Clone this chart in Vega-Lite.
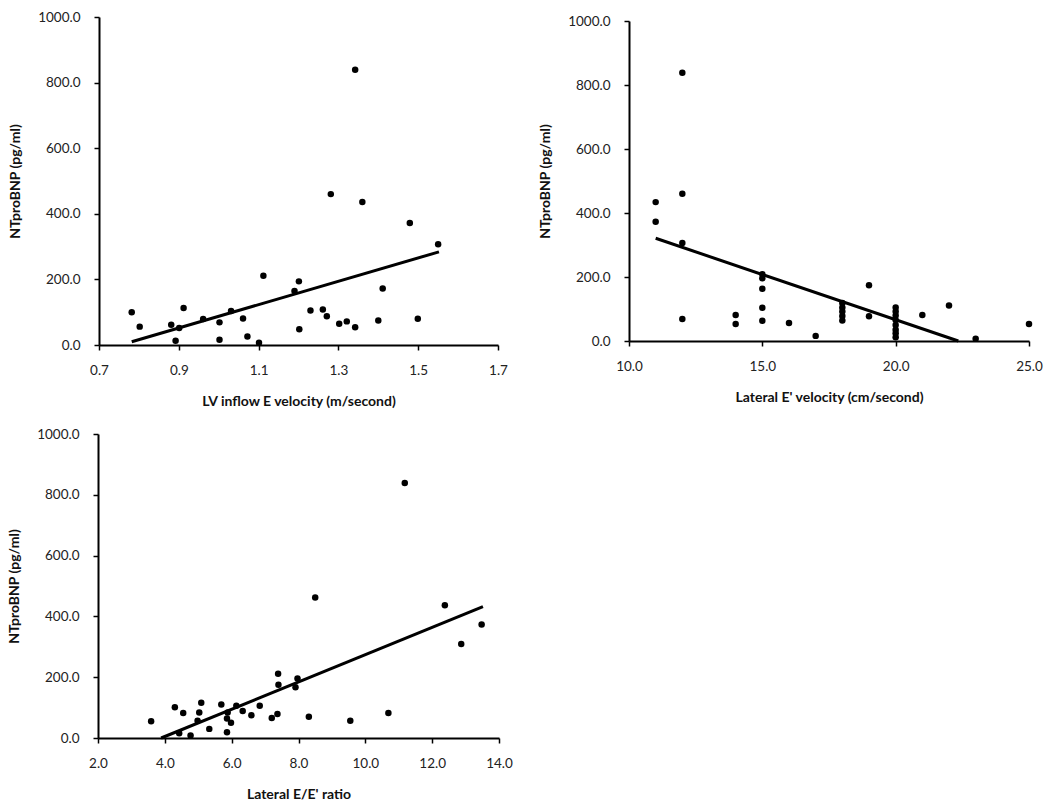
{
  "$schema": "https://vega.github.io/schema/vega-lite/v6.json",
  "background": "white",
  "padding": {"left": 7, "top": 10, "right": 5, "bottom": 5},
  "bounds": "flush",
  "columns": 2,
  "spacing": {"row": 89, "column": 130},
  "center": true,
  "config": {
    "view": {"stroke": null},
    "font": "Lato",
    "axis": {
      "grid": false,
      "domainColor": "black",
      "domainWidth": 2,
      "tickColor": "black",
      "tickWidth": 1.5,
      "tickSize": 5,
      "labelFont": "Lato",
      "labelFontSize": 13.5,
      "labelColor": "#222",
      "labelPadding": 13,
      "labelFlush": false,
      "labelOverlap": false,
      "titleFont": "Lato",
      "titleFontSize": 14,
      "titleFontWeight": "bold",
      "titleColor": "#111"
    },
    "axisX": {"titlePadding": 18},
    "axisY": {"titlePadding": 15, "labelPadding": 14}
  },
  "datasets": {
    "p1": [
      {"x": 0.782, "y": 100}, {"x": 0.802, "y": 56}, {"x": 0.881, "y": 62}, {"x": 0.892, "y": 13},
      {"x": 0.901, "y": 52}, {"x": 0.912, "y": 113}, {"x": 0.961, "y": 79}, {"x": 1.002, "y": 69},
      {"x": 1.002, "y": 16}, {"x": 1.031, "y": 104}, {"x": 1.061, "y": 81}, {"x": 1.072, "y": 26},
      {"x": 1.101, "y": 7}, {"x": 1.112, "y": 211}, {"x": 1.19, "y": 165}, {"x": 1.201, "y": 194},
      {"x": 1.202, "y": 48}, {"x": 1.23, "y": 105}, {"x": 1.261, "y": 108}, {"x": 1.271, "y": 88},
      {"x": 1.281, "y": 460}, {"x": 1.302, "y": 65}, {"x": 1.321, "y": 72}, {"x": 1.342, "y": 839},
      {"x": 1.342, "y": 54}, {"x": 1.36, "y": 436}, {"x": 1.4, "y": 75}, {"x": 1.411, "y": 172},
      {"x": 1.479, "y": 372}, {"x": 1.499, "y": 80}, {"x": 1.55, "y": 307}
    ],
    "t1": [{"x": 0.782, "y": 10}, {"x": 1.552, "y": 284}],
    "p2": [
      {"x": 11, "y": 434}, {"x": 11, "y": 373}, {"x": 12, "y": 838}, {"x": 12, "y": 460},
      {"x": 12, "y": 306}, {"x": 12, "y": 69}, {"x": 14, "y": 81}, {"x": 14, "y": 53},
      {"x": 15, "y": 209}, {"x": 15, "y": 196}, {"x": 15, "y": 163}, {"x": 15, "y": 104},
      {"x": 15, "y": 63}, {"x": 16, "y": 56}, {"x": 17, "y": 16},
      {"x": 18, "y": 119}, {"x": 18, "y": 105}, {"x": 18, "y": 92}, {"x": 18, "y": 78}, {"x": 18, "y": 64},
      {"x": 19, "y": 174}, {"x": 19, "y": 77},
      {"x": 20, "y": 105}, {"x": 20, "y": 92}, {"x": 20, "y": 80}, {"x": 20, "y": 66},
      {"x": 20, "y": 50}, {"x": 20, "y": 35}, {"x": 20, "y": 24}, {"x": 20, "y": 12},
      {"x": 21, "y": 81}, {"x": 22, "y": 111}, {"x": 23, "y": 7}, {"x": 25, "y": 53}
    ],
    "t2": [{"x": 11, "y": 321}, {"x": 22.35, "y": 0}],
    "p3": [
      {"x": 3.59, "y": 55}, {"x": 4.3, "y": 101}, {"x": 4.43, "y": 16}, {"x": 4.55, "y": 82},
      {"x": 4.77, "y": 8}, {"x": 4.98, "y": 57}, {"x": 5.03, "y": 84}, {"x": 5.09, "y": 116},
      {"x": 5.33, "y": 30}, {"x": 5.69, "y": 110}, {"x": 5.86, "y": 19}, {"x": 5.86, "y": 64},
      {"x": 5.88, "y": 84}, {"x": 5.98, "y": 50}, {"x": 6.14, "y": 106}, {"x": 6.33, "y": 89},
      {"x": 6.59, "y": 75}, {"x": 6.84, "y": 106}, {"x": 7.2, "y": 66}, {"x": 7.37, "y": 79},
      {"x": 7.39, "y": 211}, {"x": 7.4, "y": 175}, {"x": 7.91, "y": 167}, {"x": 7.97, "y": 196},
      {"x": 8.31, "y": 70}, {"x": 8.5, "y": 462}, {"x": 9.55, "y": 57}, {"x": 10.69, "y": 82},
      {"x": 11.18, "y": 839}, {"x": 12.38, "y": 437}, {"x": 12.87, "y": 309}, {"x": 13.48, "y": 373}
    ],
    "t3": [{"x": 3.89, "y": 0}, {"x": 13.52, "y": 432}]
  },
  "concat": [
    {
      "width": 399,
      "height": 328,
      "layer": [
        {
          "data": {"name": "t1"},
          "mark": {"type": "line", "color": "black", "strokeWidth": 3},
          "encoding": {
            "x": {"field": "x", "type": "quantitative"},
            "y": {"field": "y", "type": "quantitative"}
          }
        },
        {
          "data": {"name": "p1"},
          "mark": {"type": "circle", "color": "black", "opacity": 1, "size": 42},
          "encoding": {
            "x": {"field": "x", "type": "quantitative",
              "scale": {"domain": [0.7, 1.7], "nice": false, "zero": false},
              "axis": {"values": [0.7, 0.9, 1.1, 1.3, 1.5, 1.7], "format": ".1f", "title": "LV inflow E velocity (m/second)"}},
            "y": {"field": "y", "type": "quantitative",
              "scale": {"domain": [0, 1000], "nice": false},
              "axis": {"values": [0, 200, 400, 600, 800, 1000], "format": ".1f", "title": "NTproBNP (pg/ml)"}}
          }
        }
      ]
    },
    {
      "width": 400,
      "height": 320,
      "layer": [
        {
          "data": {"name": "t2"},
          "mark": {"type": "line", "color": "black", "strokeWidth": 3},
          "encoding": {
            "x": {"field": "x", "type": "quantitative"},
            "y": {"field": "y", "type": "quantitative"}
          }
        },
        {
          "data": {"name": "p2"},
          "mark": {"type": "circle", "color": "black", "opacity": 1, "size": 42},
          "encoding": {
            "x": {"field": "x", "type": "quantitative",
              "scale": {"domain": [10, 25], "nice": false, "zero": false},
              "axis": {"values": [10, 15, 20, 25], "format": ".1f", "title": "Lateral E' velocity (cm/second)"}},
            "y": {"field": "y", "type": "quantitative",
              "scale": {"domain": [0, 1000], "nice": false},
              "axis": {"values": [0, 200, 400, 600, 800, 1000], "format": ".1f", "title": "NTproBNP (pg/ml)"}}
          }
        }
      ]
    },
    {
      "width": 401,
      "height": 304,
      "layer": [
        {
          "data": {"name": "t3"},
          "mark": {"type": "line", "color": "black", "strokeWidth": 3},
          "encoding": {
            "x": {"field": "x", "type": "quantitative"},
            "y": {"field": "y", "type": "quantitative"}
          }
        },
        {
          "data": {"name": "p3"},
          "mark": {"type": "circle", "color": "black", "opacity": 1, "size": 42},
          "encoding": {
            "x": {"field": "x", "type": "quantitative",
              "scale": {"domain": [2, 14], "nice": false, "zero": false},
              "axis": {"values": [2, 4, 6, 8, 10, 12, 14], "format": ".1f", "title": "Lateral E/E' ratio"}},
            "y": {"field": "y", "type": "quantitative",
              "scale": {"domain": [0, 1000], "nice": false},
              "axis": {"values": [0, 200, 400, 600, 800, 1000], "format": ".1f", "title": "NTproBNP (pg/ml)"}}
          }
        }
      ]
    }
  ]
}
